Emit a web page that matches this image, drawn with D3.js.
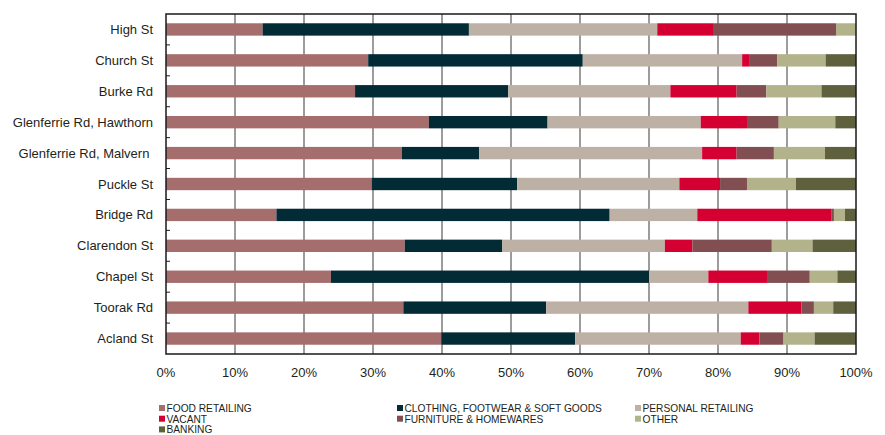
<!DOCTYPE html>
<html>
<head>
<meta charset="utf-8">
<script src="https://cdn.jsdelivr.net/npm/d3@7"></script>
<style>
  body { margin: 0; background: #fff; }
  svg { display: block; font-family: "Liberation Sans", Arial, Helvetica, sans-serif; }
  .cat-label { font-size: 13px; fill: #231f20; white-space: pre; }
  .tick-label { font-size: 13px; fill: #231f20; }
  .legend-text { font-size: 10.2px; fill: #231f20; }
</style>
</head>
<body>
<svg id="chart" width="885" height="435"></svg>
<script>
// Shopping strips, top to bottom
const streets = ["High St", "Church St", "Burke Rd", "Glenferrie Rd, Hawthorn", "Glenferrie Rd, Malvern ",
    "Puckle St", "Bridge Rd", "Clarendon St", "Chapel St", "Toorak Rd", "Acland St"];

const categories = ["FOOD RETAILING", "CLOTHING, FOOTWEAR & SOFT GOODS", "PERSONAL RETAILING",
    "VACANT", "FURNITURE & HOMEWARES", "OTHER", "BANKING"];

// share of shopfronts (%) per category, one array per category in street order
const foodRetailing = [14.0, 29.3, 27.4, 38.1, 34.2, 29.8, 16.0, 34.6, 23.9, 34.4, 39.9];
const clothing      = [29.9, 31.1, 22.2, 17.2, 11.2, 21.1, 48.3, 14.1, 46.1, 20.7, 19.4];
const personal      = [27.3, 23.1, 23.5, 22.2, 32.3, 23.5, 12.7, 23.6,  8.6, 29.3, 24.0];
const vacant        = [ 8.2,  1.0,  9.6,  6.7,  5.0,  5.9, 19.4,  4.0,  8.5,  7.7,  2.7];
const furniture     = [17.7,  4.1,  4.3,  4.6,  5.4,  3.9,  0.4, 11.5,  6.2,  1.8,  3.5];
const other         = [ 2.9,  7.0,  8.0,  8.2,  7.4,  7.1,  1.6,  5.9,  4.0,  2.8,  4.5];
const banking       = [ 0.0,  4.4,  5.0,  3.0,  4.5,  8.7,  1.6,  6.3,  2.7,  3.3,  6.0];

const xTicks = [0, 10, 20, 30, 40, 50, 60, 70, 80, 90, 100];

const colorList = ["#a66d6d", "#032b35", "#bdb0a5", "#d50032", "#814e51", "#b3b38b", "#5f603d"];

const series = [foodRetailing, clothing, personal, vacant, furniture, other, banking];
const rows = streets.map((s, i) => {
    const row = {street: s};
    categories.forEach((c, k) => { row[c] = series[k][i]; });
    return row;
});

const margin = {left: 166, right: 29, top: 14, bottom: 81};
const width = 885, height = 435;
const svg = d3.select("#chart");

const x = d3.scaleLinear().domain([0, 100]).range([margin.left, width - margin.right]);
const y = d3.scaleBand().domain(streets)
    .range([margin.top, height - margin.bottom])
    .paddingInner(0.6).paddingOuter(0.3);
const color = d3.scaleOrdinal().domain(categories).range(colorList);

const stacked = d3.stack().keys(categories)(rows);

// vertical gridlines
svg.append("g")
    .selectAll("line")
    .data(xTicks.slice(1, -1))
    .join("line")
    .attr("x1", d => x(d)).attr("x2", d => x(d))
    .attr("y1", margin.top).attr("y2", height - margin.bottom)
    .style("stroke", "#5a5a5a")
    .style("stroke-width", 1.2);

// bars
svg.append("g")
    .selectAll("g")
    .data(stacked)
    .join("g")
    .style("fill", d => color(d.key))
    .selectAll("rect")
    .data(d => d)
    .join("rect")
    .attr("x", d => x(d[0]))
    .attr("width", d => x(d[1]) - x(d[0]))
    .attr("y", d => y(d.data.street))
    .attr("height", y.bandwidth());

// frame
svg.append("rect")
    .attr("x", x(0)).attr("y", margin.top)
    .attr("width", x(100) - x(0))
    .attr("height", height - margin.bottom - margin.top)
    .style("fill", "none")
    .style("stroke", "#1a1a1a")
    .style("stroke-width", 1.5);

// small inward ticks on the category axis, at band boundaries
svg.append("g")
    .selectAll("line")
    .data(streets.slice(1))
    .join("line")
    .attr("x1", x(0)).attr("x2", x(0) + 4)
    .attr("y1", d => y(d) - y.step() * y.paddingInner() / 2)
    .attr("y2", d => y(d) - y.step() * y.paddingInner() / 2)
    .style("stroke", "#1a1a1a")
    .style("stroke-width", 1);

// category labels
svg.append("g")
    .selectAll("text")
    .data(streets)
    .join("text")
    .attr("class", "cat-label")
    .attr("x", x(0) - 13)
    .attr("y", d => y(d) + y.bandwidth() / 2)
    .attr("dy", "0.35em")
    .attr("text-anchor", "end")
    .text(d => d);

// percent labels
svg.append("g")
    .selectAll("text")
    .data(xTicks)
    .join("text")
    .attr("class", "tick-label")
    .attr("x", d => x(d))
    .attr("y", height - margin.bottom + 23)
    .attr("text-anchor", "middle")
    .text(d => d + "%");

// legend: three columns, filled row by row
const legend = svg.append("g")
    .selectAll("g")
    .data(categories)
    .join("g")
    .attr("transform", (d, i) => `translate(${159 + (i % 3) * 238},${408.5 + Math.floor(i / 3) * 10.7})`);

legend.append("rect")
    .attr("x", 0).attr("y", -3.5)
    .attr("width", 6).attr("height", 6)
    .style("fill", d => color(d));

legend.append("text")
    .attr("class", "legend-text")
    .attr("x", 7.5)
    .attr("dy", "0.35em")
    .text(d => d);
</script>
</body>
</html>
